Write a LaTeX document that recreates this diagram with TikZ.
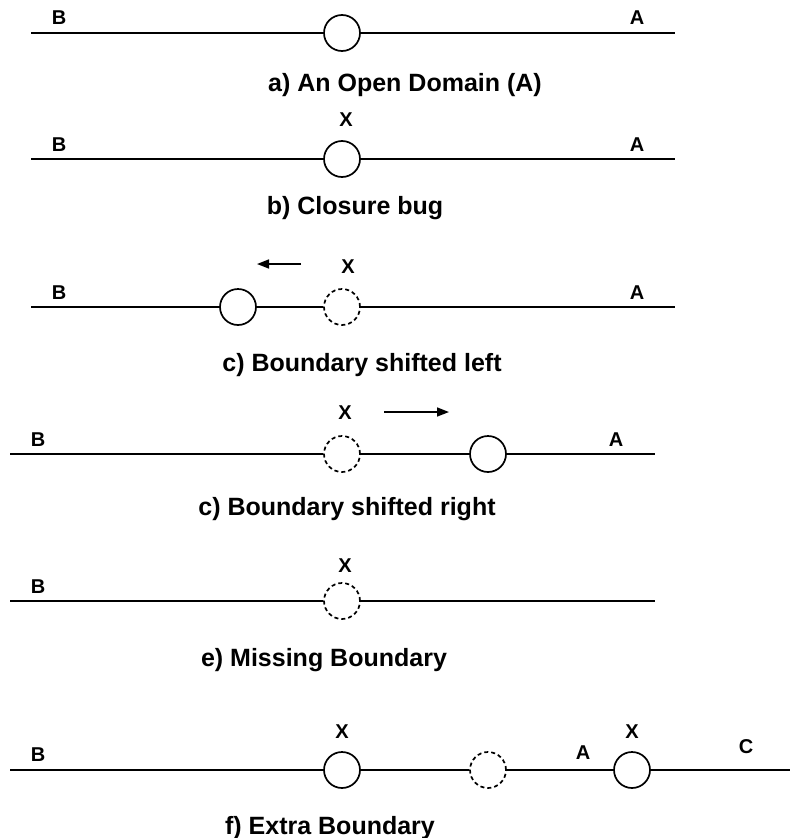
\documentclass[tikz,border=0pt]{standalone}
\usepackage{fontspec}
\setmainfont{Liberation Sans}
\usetikzlibrary{arrows.meta}
\begin{document}
\begin{tikzpicture}[x=1pt,y=-1pt,
  wire/.style={line width=1.7pt},
  bnd/.style={circle,draw,line width=1.7pt,minimum size=36pt,inner sep=0pt},
  gone/.style={bnd,dash pattern=on 4pt off 3pt},
  lbl/.style={font=\bfseries\fontsize{20}{20}\selectfont,inner sep=0pt},
  captext/.style={font=\bfseries\fontsize{25}{25}\selectfont,inner sep=0pt,anchor=base},
  mv/.style={line width=1.6pt,-{Triangle[length=12pt,width=9pt]}}]
\useasboundingbox (0,0) rectangle (790,838);

% a) An Open Domain (A)
\coordinate (a0) at (31,33);
\coordinate (a1) at (675,33);
\node[bnd] (ac) at (342,33) {};
\draw[wire] (a0) -- (ac) -- (a1);
\node[lbl] (aB) at (59,18) {B};
\node[lbl] (aA) at (637,18) {A};
\node[captext] (acap) at (405,91) {a) An Open Domain (A)};

% b) Closure bug
\coordinate (b0) at (31,159);
\coordinate (b1) at (675,159);
\node[bnd] (bc) at (342,159) {};
\draw[wire] (b0) -- (bc) -- (b1);
\node[lbl] (bX) at (346,120) {X};
\node[lbl] (bB) at (59,145) {B};
\node[lbl] (bA) at (637,145) {A};
\node[captext] (bcap) at (355,214) {b) Closure bug};

% c) Boundary shifted left
\coordinate (c0) at (31,307);
\coordinate (c1) at (675,307);
\node[bnd] (cc) at (238,307) {};
\node[gone] (cd) at (342,307) {};
\draw[wire] (c0) -- (cc) -- (cd) -- (c1);
\node[lbl] (cX) at (348,267) {X};
\coordinate (cm0) at (301,264);
\coordinate (cm1) at (257,264);
\draw[mv] (cm0) -- (cm1);
\node[lbl] (cB) at (59,293) {B};
\node[lbl] (cA) at (637,293) {A};
\node[captext] (ccap) at (362,371) {c) Boundary shifted left};

% c) Boundary shifted right
\coordinate (d0) at (10,454);
\coordinate (d1) at (655,454);
\node[gone] (dd) at (342,454) {};
\node[bnd] (dc) at (488,454) {};
\draw[wire] (d0) -- (dd) -- (dc) -- (d1);
\node[lbl] (dX) at (345,413) {X};
\coordinate (dm0) at (384,412);
\coordinate (dm1) at (449,412);
\draw[mv] (dm0) -- (dm1);
\node[lbl] (dB) at (38,440) {B};
\node[lbl] (dA) at (616,440) {A};
\node[captext] (dcap) at (347,515) {c) Boundary shifted right};

% e) Missing Boundary
\coordinate (e0) at (10,601);
\coordinate (e1) at (655,601);
\node[gone] (ed) at (342,601) {};
\draw[wire] (e0) -- (ed) -- (e1);
\node[lbl] (eX) at (345,566) {X};
\node[lbl] (eB) at (38,587) {B};
\node[captext] (ecap) at (324,666) {e) Missing Boundary};

% f) Extra Boundary
\coordinate (f0) at (10,770);
\coordinate (f1) at (790,770);
\node[bnd] (fc1) at (342,770) {};
\node[gone] (fd) at (488,770) {};
\node[bnd] (fc2) at (632,770) {};
\draw[wire] (f0) -- (fc1) -- (fd) -- (fc2) -- (f1);
\node[lbl] (fX1) at (342,732) {X};
\node[lbl] (fX2) at (632,732) {X};
\node[lbl] (fB) at (38,755) {B};
\node[lbl] (fA) at (583,753) {A};
\node[lbl] (fC) at (746,747) {C};
\node[captext] (fcap) at (330,834) {f) Extra Boundary};
\end{tikzpicture}
\end{document}
